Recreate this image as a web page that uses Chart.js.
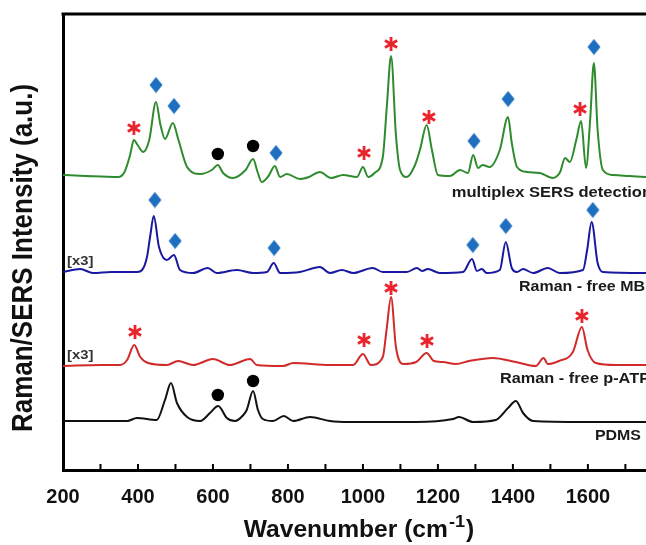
<!DOCTYPE html>
<html>
<head>
<meta charset="utf-8">
<script src="https://cdn.jsdelivr.net/npm/chart.js@4.4.0/dist/chart.umd.min.js"></script>
<style>
  html, body { margin:0; padding:0; background:#fff; overflow:hidden; }
</style>
</head>
<body>
<canvas id="myChart" width="646" height="545"></canvas>
<script>
// [wavenumber (cm-1), intensity (a.u., offset stacked as in the figure)]
const multiplexSERS = [
  [200,295],[260,294],[347,293],[364,298],[379,315],[389,330],[399,325],[414,318],[430,330],
  [448,368],[460,345],[472,331],[493,347],[508,330],[531,303],[566,296],[597,300],[613,305],
  [627,297],[653,292],[687,300],[707,311],[719,298],[730,288],[748,294],[765,304],[779,293],
  [797,296],[832,291],[856,293],[885,298],[915,292],[947,295],[984,293],[1000,303],[1014,293],
  [1031,297],[1053,313],[1064,365],[1075,414],[1088,335],[1099,300],[1117,293],[1139,305],
  [1152,320],[1170,345],[1184,320],[1200,295],[1232,294],[1259,300],[1280,297],[1294,315],
  [1307,302],[1319,305],[1338,303],[1365,320],[1387,353],[1397,327],[1411,303],[1438,298],
  [1472,297],[1506,292],[1526,298],[1539,312],[1552,308],[1569,330],[1582,349],[1595,302],
  [1606,350],[1616,407],[1626,340],[1640,300],[1667,295],[1710,294],[1755,293]
];
const freeMB = [
  [200,198],[246,201],[280,197],[329,198],[398,198],[411,200],[424,213],[433,235],[442,254],
  [456,223],[477,210],[496,215],[512,200],[547,197],[586,202],[610,197],[664,200],[707,197],
  [744,198],[762,207],[779,197],[832,198],[885,203],[912,197],[944,200],[974,197],[1026,202],
  [1053,198],[1117,198],[1144,202],[1158,199],[1173,201],[1205,197],[1267,198],[1291,211],
  [1304,199],[1317,201],[1330,197],[1365,200],[1381,228],[1397,202],[1411,198],[1427,201],
  [1454,197],[1493,202],[1525,197],[1587,200],[1598,220],[1610,248],[1626,207],[1640,198],
  [1755,197]
];
const freePATP = [
  [200,104],[300,105],[352,105],[371,110],[390,125],[406,113],[427,107],[477,105],[507,109],
  [547,105],[600,111],[645,105],[699,111],[717,105],[787,104],[814,107],[912,105],[974,105],
  [1000,116],[1021,105],[1053,113],[1063,140],[1075,173],[1088,123],[1107,106],[1142,108],
  [1170,117],[1189,109],[1213,108],[1248,106],[1283,109],[1346,112],[1408,108],[1461,104],
  [1482,112],[1493,106],[1523,109],[1560,118],[1584,143],[1599,120],[1621,107],[1675,105],
  [1755,105]
];
const pdms = [
  [200,49],[371,49],[397,52],[450,50],[472,70],[488,87],[504,67],[531,53],[566,49],[592,57],
  [614,64],[637,52],[659,49],[681,55],[690,60],[707,79],[720,60],[733,51],[760,49],[789,54],
  [814,49],[859,53],[912,49],[963,48],[1142,48],[1240,51],[1256,53],[1294,48],[1354,50],
  [1387,62],[1408,69],[1427,57],[1454,49],[1587,48],[1755,48]
];

// band markers
const starPeaks = [[389,342],[1003,317],[1075,426],[1176,353],[1579,361],
                   [392,138],[1003,130],[1075,182],[1171,129],[1584,154]];
const diamondPeaks = [[448,385],[496,364],[768,317],[1296,329],[1387,371],[1616,423],
                      [445,270],[499,229],[763,222],[1293,225],[1381,244],[1613,260]];
const dotPeaks = [[613,316],[707,324],[613,75],[707,89]];

const xTicks = [200,400,600,800,1000,1200,1400,1600];
const seriesNames = ['multiplex SERS detection','Raman - free MB','Raman - free p-ATP','PDMS'];
const scaleNote = '[x3]';

const toXY = arr => arr.map(p => ({x: p[0], y: p[1]}));
const FONT = "'Liberation Sans', Arial, sans-serif";
const SX = 1.14; // reference text is a little wide

function makeAsterisk(){
  const c = document.createElement('canvas');
  c.width = 18; c.height = 18;
  const g = c.getContext('2d');
  g.strokeStyle = '#e8232b';
  g.lineWidth = 2.8;
  const r = 7;
  [90, 30, 150].forEach(function(a){
    const t = a * Math.PI / 180;
    g.beginPath();
    g.moveTo(9 - r*Math.cos(t), 9 - r*Math.sin(t));
    g.lineTo(9 + r*Math.cos(t), 9 + r*Math.sin(t));
    g.stroke();
  });
  return c;
}
function makeDiamond(){
  const c = document.createElement('canvas');
  c.width = 14; c.height = 17;
  const g = c.getContext('2d');
  g.fillStyle = '#1f6fc1';
  g.beginPath();
  g.moveTo(7, 0.5); g.lineTo(13.5, 8.5); g.lineTo(7, 16.5); g.lineTo(0.5, 8.5);
  g.closePath(); g.fill();
  return c;
}

function stretchText(ctx, str, x, y, size, align){
  ctx.save();
  ctx.font = 'bold ' + size + 'px ' + FONT;
  ctx.translate(x, y);
  ctx.scale(SX, 1);
  ctx.textAlign = align;
  ctx.textBaseline = 'alphabetic';
  ctx.fillText(str, 0, 0);
  ctx.restore();
}

const frame = {
  id: 'frame',
  afterDraw(chart){
    const ctx = chart.ctx, a = chart.chartArea, xs = chart.scales.x;
    ctx.save();
    ctx.strokeStyle = '#000';
    // top border
    ctx.lineWidth = 3;
    ctx.beginPath();
    ctx.moveTo(a.left - 1.5, a.top); ctx.lineTo(chart.width, a.top);
    ctx.stroke();
    // inward ticks every 100
    ctx.lineWidth = 2;
    for (let v = 300; v <= 1700; v += 100){
      const px = xs.getPixelForValue(v);
      ctx.beginPath();
      ctx.moveTo(px, a.bottom); ctx.lineTo(px, a.bottom - 6);
      ctx.stroke();
    }
    ctx.fillStyle = '#1a1a1a';
    // series labels
    stretchText(ctx, seriesNames[0], 652, 197, 14.5, 'right');
    stretchText(ctx, seriesNames[1], 645, 291, 14, 'right');
    stretchText(ctx, seriesNames[2], 650, 383, 14.3, 'right');
    stretchText(ctx, seriesNames[3], 641, 440, 14, 'right');
    ctx.fillStyle = '#333';
    stretchText(ctx, scaleNote, 67, 265, 13, 'left');
    stretchText(ctx, scaleNote, 67, 359, 13, 'left');

    // x title with superscript
    ctx.fillStyle = '#111';
    const sxT = 1.07;
    ctx.font = 'bold 23px ' + FONT;
    const w1 = ctx.measureText('Wavenumber (cm').width * sxT;
    const w3 = ctx.measureText(')').width * sxT;
    ctx.font = 'bold 17px ' + FONT;
    const w2 = ctx.measureText('-1').width * sxT;
    let x0 = 358 - (w1 + w2 + w3) / 2;
    [['Wavenumber (cm', 23, 537, w1], ['-1', 17, 527, w2], [')', 23, 537, w3]].forEach(function(p){
      ctx.save();
      ctx.font = 'bold ' + p[1] + 'px ' + FONT;
      ctx.translate(x0, p[2]);
      ctx.scale(sxT, 1);
      ctx.textAlign = 'left';
      ctx.fillText(p[0], 0, 0);
      ctx.restore();
      x0 += p[3] + 1;
    });

    // y title
    ctx.save();
    ctx.font = 'bold 26px ' + FONT;
    ctx.translate(24, 258);
    ctx.rotate(-Math.PI / 2);
    ctx.scale(1, 1.14);
    ctx.textAlign = 'center';
    ctx.textBaseline = 'middle';
    ctx.fillText('Raman/SERS Intensity (a.u.)', 0, 0);
    ctx.restore();
    ctx.restore();
  }
};

const lineStyle = {pointRadius: 0, borderWidth: 2, cubicInterpolationMode: 'monotone', fill: false};

const ctx = document.getElementById('myChart').getContext('2d');
const myChart = new Chart(ctx, {
  type: 'line',
  data: {
    datasets: [
      Object.assign({label: seriesNames[0], data: toXY(multiplexSERS), borderColor: '#2e8b2e'}, lineStyle),
      Object.assign({label: seriesNames[1], data: toXY(freeMB), borderColor: '#1818a0'}, lineStyle),
      Object.assign({label: seriesNames[2], data: toXY(freePATP), borderColor: '#d12a2a'}, lineStyle),
      Object.assign({label: seriesNames[3], data: toXY(pdms), borderColor: '#111111'}, lineStyle),
      {label: 'p-ATP', data: toXY(starPeaks), showLine: false, pointStyle: makeAsterisk(), pointRadius: 7},
      {label: 'MB', data: toXY(diamondPeaks), showLine: false, pointStyle: makeDiamond(), pointRadius: 7},
      {label: 'PDMS band', data: toXY(dotPeaks), showLine: false, pointStyle: 'circle', pointRadius: 6.2,
       backgroundColor: '#000', borderColor: '#000', borderWidth: 0}
    ]
  },
  options: {
    responsive: false,
    animation: false,
    devicePixelRatio: 1,
    layout: {autoPadding: false, padding: {top: 14, right: 0, left: 0, bottom: 0}},
    plugins: {legend: {display: false}, tooltip: {enabled: false}},
    scales: {
      x: {
        type: 'linear',
        min: 200,
        max: 1755,
        afterBuildTicks: s => { s.ticks = xTicks.map(v => ({value: v})); },
        afterFit: s => { s.height = 75; s.paddingRight = 0; s.paddingLeft = 0; },
        grid: {display: false, drawTicks: false},
        border: {display: true, width: 3, color: '#000'},
        ticks: {
          color: '#111',
          padding: 15,
          maxRotation: 0,
          autoSkip: false,
          callback: v => String(v),
          font: {family: FONT, size: 20, weight: 'bold'}
        }
      },
      y: {
        min: 0,
        max: 456,
        afterFit: s => { s.width = 63; s.paddingTop = 0; s.paddingBottom = 0; },
        grid: {display: false, drawTicks: false},
        border: {display: true, width: 3, color: '#000'},
        ticks: {display: false}
      }
    }
  },
  plugins: [frame]
});
</script>
</body>
</html>
